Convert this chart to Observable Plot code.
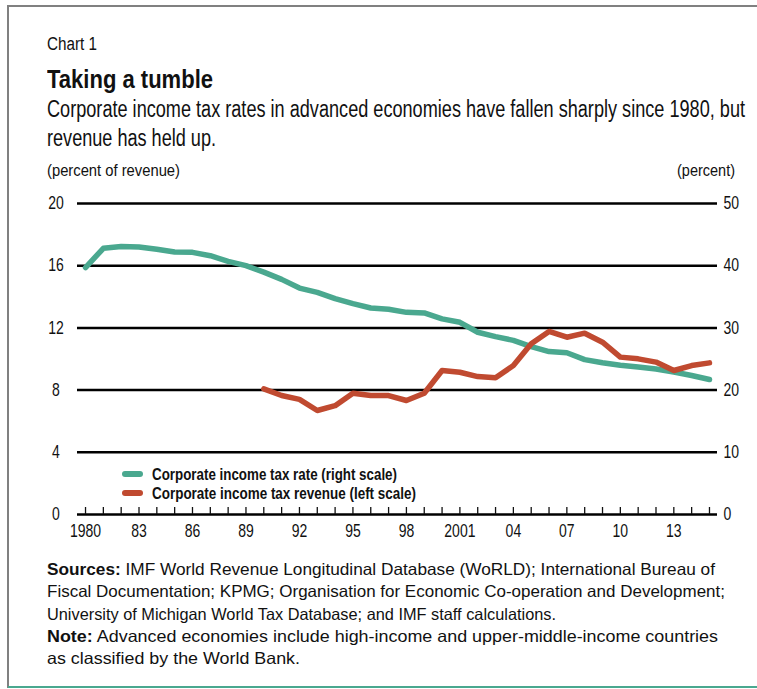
<!DOCTYPE html>
<html>
<head>
<meta charset="utf-8">
<script src="https://cdn.jsdelivr.net/npm/d3@7"></script>
<script src="https://cdn.jsdelivr.net/npm/@observablehq/plot@0.6"></script>
<style>
  html, body { margin: 0; padding: 0; background: #fff; }
  #wrap { position: relative; width: 757px; height: 689px; overflow: hidden; font-family: "Liberation Sans", Arial, sans-serif; color: #111; }
  .abs { position: absolute; white-space: nowrap; }
  #borderTop { position: absolute; left: 8px; top: 5px; width: 749px; height: 2px; background: #808080; }
  #borderLeft { position: absolute; left: 7px; top: 5px; width: 2px; height: 683px; background: #808080; }
  #borderBottom { position: absolute; left: 8px; top: 686px; width: 749px; height: 2px; background: #4aa88f; }
  #chartNo { left: 47px; top: 34.8px; font-size: 18px; line-height: 18px; }
  #title { left: 47px; top: 66.8px; font-size: 25px; line-height: 25px; font-weight: bold; }
  .sub { left: 47px; font-size: 23px; line-height: 29px; }
  .unit { top: 161.6px; font-size: 17px; line-height: 17px; }
  #plot { position: absolute; left: 0; top: 185px; }
  .sw { position: absolute; left: 122px; width: 21px; height: 6px; border-radius: 3px; }
  .leg { left: 152px; font-weight: bold; font-size: 16.5px; line-height: 19px; }
  .foot { left: 47px; font-size: 16.5px; line-height: 16.5px; }
</style>
</head>
<body>
<div id="wrap">
  <div id="borderTop"></div>
  <div id="borderLeft"></div>
  <div id="borderBottom"></div>
  <div class="abs fit" id="chartNo" data-w="50">Chart 1</div>
  <div class="abs fit" id="title" data-w="166">Taking a tumble</div>
  <div class="abs fit sub" style="top:94.5px" data-w="698">Corporate income tax rates in advanced economies have fallen sharply since 1980, but</div>
  <div class="abs fit sub" style="top:123.5px" data-w="169">revenue has held up.</div>
  <div class="abs fit unit" style="left:47px" data-w="133">(percent of revenue)</div>
  <div class="abs fit unit" style="left:677px" data-w="58">(percent)</div>
  <div id="plot"></div>
  <div class="sw" style="top:471px;background:#4aa88f"></div>
  <div class="sw" style="top:490px;background:#c04a30"></div>
  <div class="abs fit leg" style="top:464.7px" data-w="245">Corporate income tax rate (right scale)</div>
  <div class="abs fit leg" style="top:483.7px" data-w="264">Corporate income tax revenue (left scale)</div>
  <div class="abs fit foot" style="top:561px" data-w="668"><b>Sources:</b> IMF World Revenue Longitudinal Database (WoRLD); International Bureau of</div>
  <div class="abs fit foot" style="top:583px" data-w="678">Fiscal Documentation; KPMG; Organisation for Economic Co-operation and Development;</div>
  <div class="abs fit foot" style="top:605.5px" data-w="509">University of Michigan World Tax Database; and IMF staff calculations.</div>
  <div class="abs fit foot" style="top:628px" data-w="671"><b>Note:</b> Advanced economies include high-income and upper-middle-income countries</div>
  <div class="abs fit foot" style="top:650px" data-w="253">as classified by the World Bank.</div>
</div>
<script>
// Years
const rateYears = d3.range(1980, 2016);
// Corporate income tax rate, percent (right scale), 1980–2015
const rateValues = [39.7, 42.8, 43.1, 43.0, 42.65, 42.2, 42.15, 41.6, 40.7, 40.0,
  38.96, 37.8, 36.4, 35.7, 34.7, 33.9, 33.2, 33.0, 32.5, 32.4,
  31.45, 30.9, 29.3, 28.6, 28.0, 27.0, 26.2, 26.0, 24.9, 24.4,
  24.0, 23.7, 23.4, 22.9, 22.35, 21.7];
const revenueYears = d3.range(1990, 2016);
// Corporate income tax revenue, percent of revenue (left scale), 1990–2015
const revenueValues = [8.08, 7.65, 7.4, 6.69, 7.0, 7.8, 7.65, 7.65, 7.33, 7.8,
  9.26, 9.15, 8.87, 8.79, 9.58, 10.98, 11.77, 11.4, 11.66, 11.08,
  10.12, 10.01, 9.8, 9.26, 9.58, 9.75];
const leftTicks = [0, 4, 8, 12, 16, 20];
const rightTickLabels = ["0", "10", "20", "30", "40", "50"];
const xTickYears = [1980, 1983, 1986, 1989, 1992, 1995, 1998, 2001, 2004, 2007, 2010, 2013];
const xTickLabels = ["1980", "83", "86", "89", "92", "95", "98", "2001", "04", "07", "10", "13"];
const scaleRatio = 2.5; // right scale / left scale

const rate = rateYears.map((y, i) => ({year: y, v: rateValues[i] / scaleRatio}));
const revenue = revenueYears.map((y, i) => ({year: y, v: revenueValues[i]}));

const chart = Plot.plot({
  width: 757,
  height: 360,
  marginLeft: 77,
  marginRight: 40,
  marginTop: 18,
  marginBottom: 31,
  style: {fontFamily: '"Liberation Sans", Arial, sans-serif', fontSize: "17.5px", color: "#111", background: "transparent"},
  x: {domain: [1979.55, 2015.45]},
  y: {domain: [0, 20]},
  marks: [
    Plot.ruleY(leftTicks, {stroke: "#000", strokeWidth: 2.5}),
    Plot.axisY({ticks: leftTicks, anchor: "left", tickSize: 0, tickPadding: 21.5, textAnchor: "middle", label: null}),
    Plot.axisY({ticks: leftTicks, anchor: "right", tickSize: 0, tickPadding: 6, label: null,
      tickFormat: d => rightTickLabels[leftTicks.indexOf(d)]}),
    Plot.axisX({ticks: rateYears, tickSize: -7, tickFormat: () => "", strokeWidth: 1.3, label: null}),
    Plot.axisX({ticks: xTickYears, tickSize: 0, tickPadding: 10, label: null,
      tickFormat: d => xTickLabels[xTickYears.indexOf(d)]}),
    Plot.lineY(rate, {x: "year", y: "v", stroke: "#4aa88f", strokeWidth: 5.5, strokeLinejoin: "round", strokeLinecap: "round"}),
    Plot.lineY(revenue, {x: "year", y: "v", stroke: "#c04a30", strokeWidth: 5.5, strokeLinejoin: "round", strokeLinecap: "round"})
  ]
});
document.getElementById("plot").appendChild(chart);

// Condense SVG tick labels horizontally around their anchor (the reference uses a condensed face)
chart.querySelectorAll("text").forEach(el => {
  const t = el.getAttribute("transform") || "";
  const xa = el.getAttribute("x");
  const cx = xa !== null && /^-?[\d.]+$/.test(xa.trim()) ? +xa : 0;
  el.setAttribute("transform", `${t} translate(${cx},0) scale(0.8,1) translate(${-cx},0)`);
});

// Fit HTML texts horizontally to the reference widths
document.querySelectorAll(".fit").forEach(el => {
  const w = +el.dataset.w;
  const nat = el.getBoundingClientRect().width;
  el.style.transformOrigin = "0 50%";
  el.style.transform = `scaleX(${w / nat})`;
});
</script>
</body>
</html>
